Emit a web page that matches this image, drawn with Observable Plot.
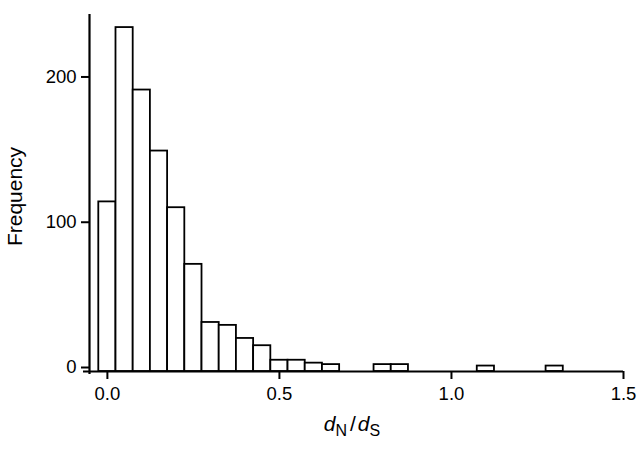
<!DOCTYPE html>
<html>
<head>
<meta charset="utf-8">
<script src="https://cdn.jsdelivr.net/npm/d3@7"></script>
<script src="https://cdn.jsdelivr.net/npm/@observablehq/plot@0.6"></script>
<style>
  html, body { margin: 0; padding: 0; background: #fff; }
  svg { display: block; }
</style>
</head>
<body>
<div id="chart"></div>
<script>
// Histogram of dN/dS: bin centres (bin width 0.05) and frequencies
const binCenters = [0.00, 0.05, 0.10, 0.15, 0.20, 0.25, 0.30, 0.35, 0.40, 0.45,
                    0.50, 0.55, 0.60, 0.65, 0.70, 0.75, 0.80, 0.85, 0.90, 0.95,
                    1.00, 1.05, 1.10, 1.15, 1.20, 1.25, 1.30];
const counts = [114, 234, 191, 149, 110, 71, 31, 29, 20, 15,
                5, 5, 3, 2, 0, 0, 2, 2, 0, 0,
                0, 0, 1, 0, 0, 0, 1];
const binWidth = 0.05;
const xTicks = [0.0, 0.5, 1.0, 1.5];
const yTicks = [0, 100, 200];
const xDomain = [-0.052, 1.5];
const yDomain = [-2.75, 243];

const data = binCenters
  .map((c, i) => ({x1: c - binWidth / 2, x2: c + binWidth / 2, count: counts[i]}))
  .filter(d => d.count > 0);

const font = "'Liberation Sans', Arial, Helvetica, sans-serif";

const plot = Plot.plot({
  width: 642,
  height: 450,
  marginLeft: 89,
  marginRight: 19,
  marginTop: 14,
  marginBottom: 79,
  style: {fontFamily: font, fontSize: "18.5px", color: "#000", background: "#fff"},
  x: {domain: xDomain, label: null},
  y: {domain: yDomain, label: null},
  marks: [
    Plot.rectY(data, {x1: "x1", x2: "x2", y1: yDomain[0], y2: "count",
                      fill: "white", stroke: "black", strokeWidth: 1.8}),
    Plot.axisX({ticks: xTicks, tickFormat: d3.format(".1f"), tickSize: 8, tickPadding: 7,
                strokeWidth: 2, fontSize: 18.5, label: null}),
    Plot.axisY({ticks: yTicks, tickSize: 8, tickPadding: 5,
                strokeWidth: 2, fontSize: 18.5, label: null}),
    Plot.ruleX([xDomain[0]], {stroke: "black", strokeWidth: 2.2, insetBottom: -3}),
    Plot.ruleY([yDomain[0]], {stroke: "black", strokeWidth: 2.2, insetLeft: -6})
  ]
});

const svg = d3.select(plot);

// y-axis title
svg.append("text")
  .attr("transform", "translate(22,196.5) rotate(-90)")
  .attr("text-anchor", "middle")
  .attr("font-family", font)
  .attr("font-size", 21)
  .attr("fill", "#000")
  .text("Frequency");

// x-axis title: dN/dS
const xl = svg.append("text")
  .attr("x", 352)
  .attr("y", 431)
  .attr("text-anchor", "middle")
  .attr("font-family", font)
  .attr("font-size", 21)
  .attr("fill", "#000");
xl.append("tspan").attr("font-style", "italic").text("d");
xl.append("tspan").attr("font-size", 16).attr("dy", 4.5).text("N");
xl.append("tspan").attr("dy", -4.5).attr("dx", 3).text("/");
xl.append("tspan").attr("font-style", "italic").attr("dx", 2).text("d");
xl.append("tspan").attr("font-size", 16).attr("dy", 4.5).text("S");

document.getElementById("chart").appendChild(plot);
</script>
</body>
</html>
